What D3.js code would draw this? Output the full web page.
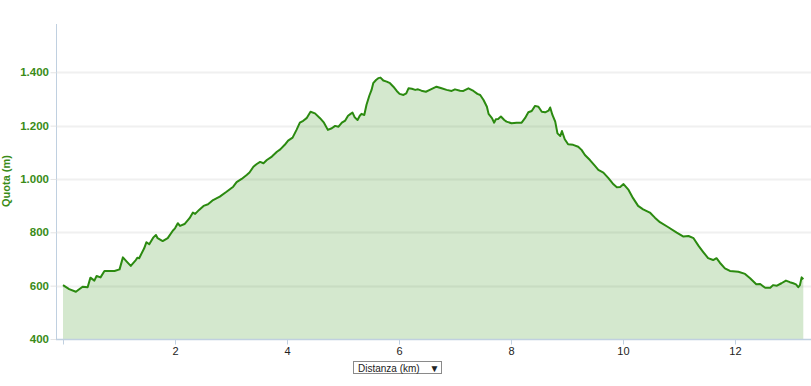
<!DOCTYPE html>
<html>
<head>
<meta charset="utf-8">
<script src="https://cdn.jsdelivr.net/npm/d3@7/dist/d3.min.js"></script>
<style>
  html, body { margin: 0; padding: 0; background: #fff; }
  svg { display: block; font-family: "Liberation Sans", Arial, sans-serif; }
</style>
</head>
<body>
<svg id="chart" width="811" height="386"></svg>
<script>
// Distance (km)
const distanceKm = [
  0.00,0.11,0.23,0.35,0.44,0.49,0.56,0.60,0.67,0.74,0.92,1.01,1.07,1.13,1.21,1.30,1.33,1.36,1.45,1.49,
  1.54,1.61,1.66,1.69,1.78,1.87,1.96,2.00,2.05,2.09,2.17,2.26,2.32,2.36,2.43,2.51,2.59,2.68,2.80,2.92,
  3.04,3.10,3.19,3.28,3.33,3.40,3.46,3.52,3.58,3.64,3.73,3.82,3.88,3.96,4.02,4.10,4.17,4.23,4.29,4.35,
  4.42,4.50,4.59,4.66,4.73,4.80,4.86,4.92,4.98,5.04,5.09,5.13,5.17,5.21,5.26,5.30,5.33,5.38,5.42,5.47,
  5.51,5.54,5.59,5.63,5.67,5.72,5.78,5.84,5.90,5.96,6.01,6.08,6.13,6.17,6.23,6.29,6.34,6.40,6.48,6.55,
  6.67,6.76,6.85,6.94,7.00,7.09,7.15,7.24,7.33,7.40,7.45,7.51,7.57,7.60,7.66,7.70,7.73,7.77,7.82,7.88,
  7.92,8.01,8.10,8.19,8.25,8.31,8.37,8.43,8.49,8.55,8.61,8.67,8.70,8.74,8.79,8.83,8.88,8.91,8.96,9.02,
  9.11,9.20,9.26,9.32,9.41,9.50,9.56,9.65,9.74,9.83,9.89,9.95,10.01,10.10,10.18,10.27,10.36,10.48,10.57,10.66,
  10.81,10.96,11.08,11.17,11.26,11.35,11.43,11.52,11.61,11.67,11.73,11.82,11.91,12.06,12.18,12.27,12.38,12.45,12.54,12.63,
  12.68,12.75,12.83,12.91,12.98,13.04,13.09,13.13,13.16,13.19,13.22
];
// Elevation (m)
const elevationM = [
  602,587,577,596,594,630,619,636,631,655,655,661,706,692,674,696,705,703,740,763,
  755,780,790,778,767,778,806,815,834,824,831,853,874,869,884,899,905,921,934,952,
  971,988,1000,1015,1024,1046,1056,1064,1059,1071,1084,1102,1111,1128,1144,1155,1184,1211,1218,1228,
  1252,1246,1228,1211,1184,1190,1199,1196,1211,1219,1237,1243,1249,1231,1221,1237,1244,1240,1278,1312,
  1334,1359,1371,1378,1380,1369,1365,1359,1346,1330,1319,1315,1321,1340,1338,1334,1336,1331,1327,1334,
  1346,1340,1334,1330,1336,1331,1330,1340,1330,1319,1315,1296,1271,1244,1228,1211,1224,1225,1234,1221,
  1215,1209,1211,1211,1228,1250,1255,1274,1271,1252,1250,1256,1268,1240,1215,1171,1161,1180,1149,1130,
  1128,1121,1109,1090,1071,1049,1034,1024,1003,980,969,970,981,959,928,899,886,874,855,838,
  819,799,784,786,778,749,727,703,696,703,686,665,655,652,644,628,605,606,592,592,
  602,600,609,619,613,609,605,594,602,631,624
];
const yTicks = [400, 600, 800, 1000, 1200, 1400];
const xTicks = [0, 2, 4, 6, 8, 10, 12];
const xTickLabels = ["", "2", "4", "6", "8", "10", "12"];
const yTitle = "Quota (m)";
const xTitle = "Distanza (km)";

const data = distanceKm.map((d, i) => ({ x: d, y: elevationM[i] }));

const svg = d3.select("#chart");
const plotLeft = 56, plotRight = 811, plotTop = 24, plotBottom = 339;

const x = d3.scaleLinear().domain([0, d3.max(distanceKm)]).range([63, 803.3]);
const y = d3.scaleLinear().domain([400, 1581]).range([plotBottom, plotTop]);

const green = "#2b8a10";
const labelGreen = "#3a8c18";

// gridlines
svg.append("g").selectAll("line").data(yTicks.filter(t => t > 400)).join("line")
  .attr("x1", plotLeft).attr("x2", plotRight)
  .attr("y1", d => Math.round(y(d)) + 0.5).attr("y2", d => Math.round(y(d)) + 0.5)
  .attr("stroke", "#f0f0f0").attr("stroke-width", 2);

// area
const area = d3.area().x(d => x(d.x)).y0(y(400)).y1(d => y(d.y));
svg.append("path").datum(data).attr("d", area)
  .attr("fill", "rgb(60,150,30)").attr("fill-opacity", 0.22);

// line
const line = d3.line().x(d => x(d.x)).y(d => y(d.y));
svg.append("path").datum(data).attr("d", line)
  .attr("fill", "none").attr("stroke", green).attr("stroke-width", 2)
  .attr("stroke-linejoin", "round");

// y axis
const yAxis = d3.axisLeft(y).tickValues(yTicks).tickSize(6).tickPadding(3)
  .tickFormat(d => d3.format(",")(d).replace(/,/g, "."));
const gy = svg.append("g").attr("transform", `translate(${plotLeft + 0.5},0)`).call(yAxis);
gy.select(".domain").attr("stroke", "#c0d0e0").attr("d", `M0,${plotTop}V${plotBottom}`);
gy.selectAll(".tick line").attr("stroke", "#e4e4e4");
gy.selectAll(".tick text").attr("fill", labelGreen).attr("font-weight", "bold")
  .attr("font-size", "11.5px").attr("font-family", "Liberation Sans, Arial, sans-serif")
  .attr("x", -7.5);

// x axis
const xAxis = d3.axisBottom(x).tickValues(xTicks).tickSize(5).tickPadding(3)
  .tickFormat((d, i) => xTickLabels[i]);
const gx = svg.append("g").attr("transform", `translate(0,${plotBottom + 0.5})`).call(xAxis);
gx.select(".domain").attr("stroke", "#c0d0e0").attr("stroke-width", 1.5).attr("d", `M${plotLeft},0H${plotRight}`);
gx.selectAll(".tick line").attr("stroke", "#c0d0e0");
gx.selectAll(".tick text").attr("fill", "#222").attr("font-size", "11px")
  .attr("font-family", "Liberation Sans, Arial, sans-serif");

// y title
svg.append("text")
  .attr("transform", `translate(9.5,181) rotate(-90)`)
  .attr("text-anchor", "middle")
  .attr("fill", labelGreen).attr("font-weight", "bold").attr("font-size", "11px")
  .text(yTitle);

// x title dropdown
const dd = svg.append("g").attr("transform", "translate(353.5,361.5)");
dd.append("rect").attr("width", 88).attr("height", 12)
  .attr("fill", "#fff").attr("stroke", "#8a8a8a");
dd.append("text").attr("x", 4.5).attr("y", 10).attr("font-size", "10px").attr("fill", "#222")
  .text(xTitle);
dd.append("text").attr("x", 76).attr("y", 10).attr("font-size", "10px").attr("fill", "#222")
  .text("▼");
</script>
</body>
</html>
